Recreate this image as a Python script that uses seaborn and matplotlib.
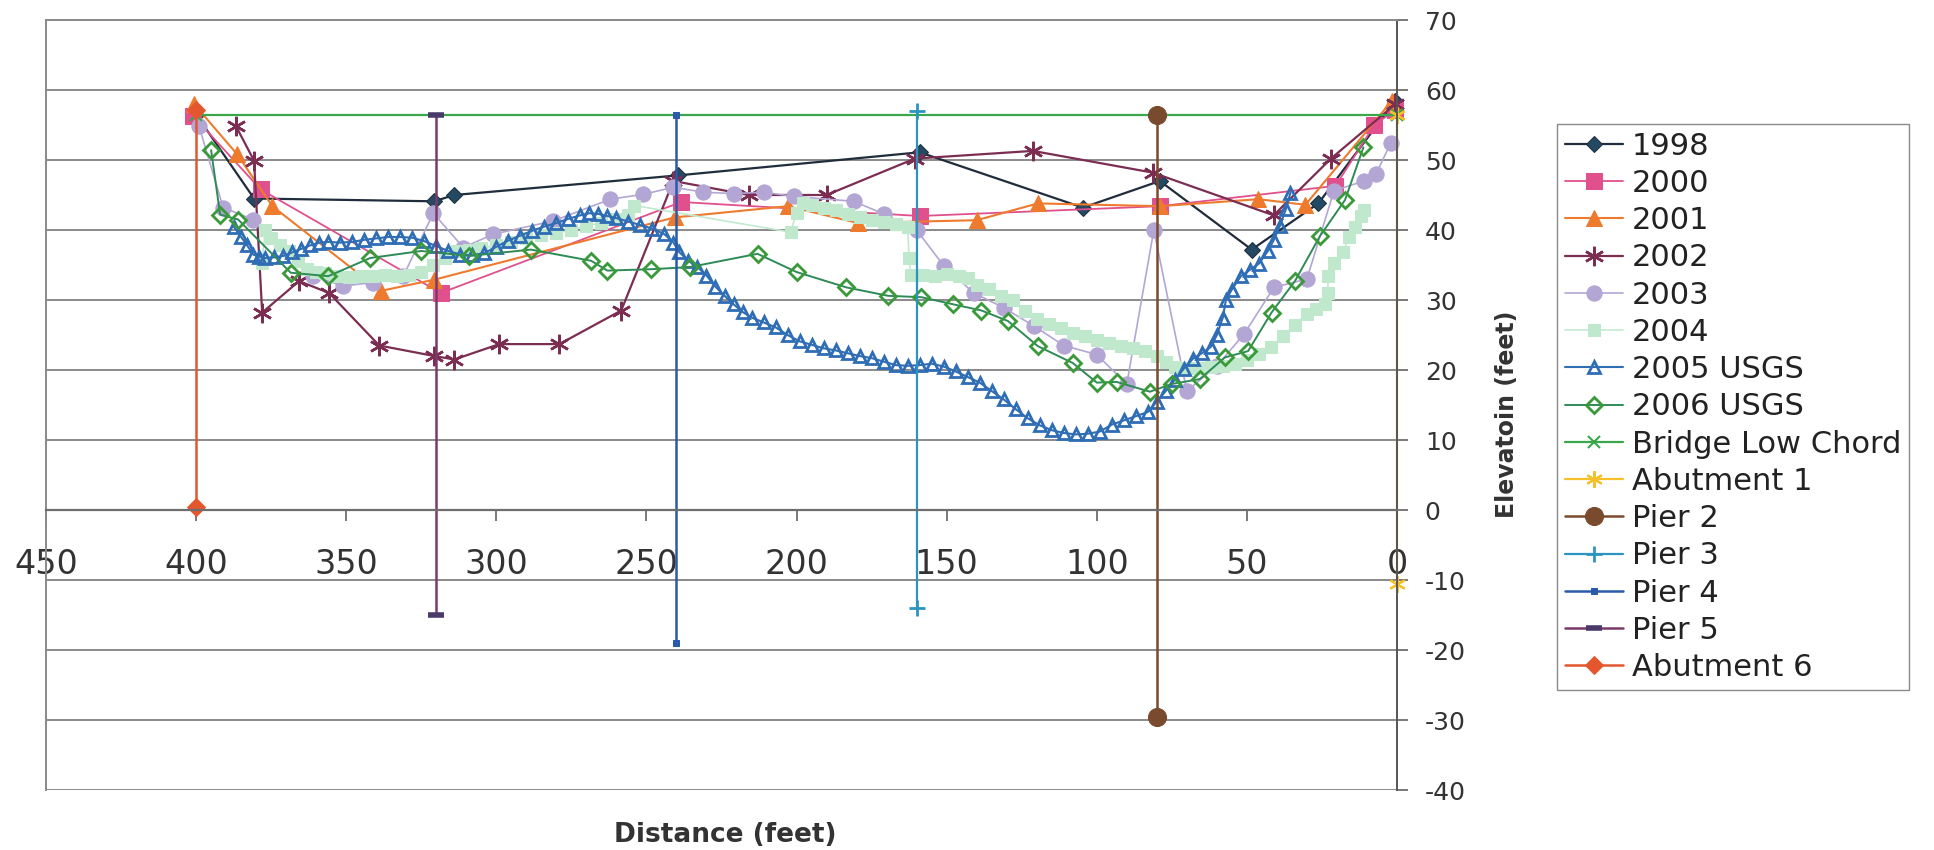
import matplotlib
matplotlib.use("Agg")
import matplotlib.pyplot as plt
import seaborn as sns

# ---------------- data ----------------
x_1998 = [400, 380.7, 320.7, 314, 239.5, 159, 104.6, 79, 48.4, 26.2, 0.5]
y_1998 = [56.5, 44.5, 44.1, 45.0, 47.8, 51.1, 43.2, 47.0, 37.2, 43.8, 58.5]

x_2000 = [401, 378.5, 318.5, 238.4, 159, 79, 20.5, 7.5, 0.5]
y_2000 = [56.3, 45.8, 31.0, 44.0, 42.0, 43.4, 46.3, 55.0, 57.2]

x_2001 = [400.7, 386.3, 374.6, 338.5, 320.7, 240.6, 203, 179.5, 140, 119.6, 79, 46.2, 30.5, 1.8]
y_2001 = [58.0, 50.8, 43.4, 31.3, 32.9, 41.8, 43.4, 41.0, 41.4, 43.8, 43.4, 44.4, 43.6, 58.4]

x_2002 = [386.8, 380.7, 378, 365.7, 355.7, 339, 320.7, 314, 299, 279, 258.4, 241, 216, 190,
          160.6, 121.3, 81.4, 41.1, 22, 0.5]
y_2002 = [54.9, 49.9, 28.2, 32.7, 31.0, 23.5, 22.0, 21.5, 23.7, 23.7, 28.5, 47.0, 45.0, 45.0,
          50.2, 51.3, 48.2, 42.1, 50.2, 58.0]

x_2003 = [399, 391, 381, 361, 351, 341, 331, 321, 311, 301, 281, 262, 251, 241, 231, 221, 211,
          201, 181, 171, 160, 151, 141, 131, 121, 111, 100, 90, 81, 70, 60, 51, 41, 30, 21, 11, 7, 2]
y_2003 = [54.8, 43.2, 41.5, 33.4, 32.0, 32.5, 33.4, 42.4, 37.5, 39.4, 41.3, 44.4, 45.1, 46.1,
          45.4, 45.2, 45.4, 44.8, 44.1, 42.3, 40.0, 34.9, 31.0, 28.9, 26.3, 23.5, 22.2, 18.0,
          40.0, 17.0, 20.6, 25.1, 31.8, 33.0, 45.6, 47.0, 48.0, 52.5]

x_2004 = [378, 377, 375, 372, 369, 366, 363, 360, 357, 353, 349, 345, 341, 337, 333, 329, 325,
          321, 317, 313, 309, 305, 300, 295, 290, 285, 280, 275, 270, 265, 260, 256, 254,
          202, 200, 198, 195, 191, 187, 183, 179, 175, 171, 167, 163, 162.5, 162, 158, 154,
          150, 146, 143, 140, 136, 132, 128, 124, 120, 116, 112, 108, 104, 100, 96, 92, 88,
          84, 80, 77, 74, 70, 66, 62, 58, 54, 50, 46, 42, 38, 34, 30, 27, 24, 23, 23, 21,
          18, 16, 14, 12, 11]
y_2004 = [35.3, 40.0, 38.8, 37.8, 37.0, 35.6, 34.4, 34.0, 33.8, 33.4, 33.3, 33.5, 33.4, 33.6,
          33.4, 33.6, 34.0, 35.0, 36.0, 37.0, 37.2, 37.4, 37.8, 38.3, 38.8, 39.3, 39.6, 40.0,
          40.6, 41.0, 41.6, 42.2, 43.5,
          39.7, 42.5, 43.9, 43.6, 43.2, 42.8, 42.3, 41.9, 41.5, 41.2, 40.9, 40.5, 36.0, 33.6,
          33.6, 33.5, 33.7, 33.4, 33.2, 32.2, 31.6, 30.6, 30.0, 28.5, 27.3, 26.6, 26.0, 25.3,
          24.8, 24.3, 23.9, 23.5, 23.1, 22.7, 22.0, 21.2, 20.4, 20.3, 20.3, 20.4, 20.6, 20.8,
          21.5, 22.3, 23.3, 24.8, 26.5, 28.0, 28.7, 29.5, 31.0, 33.5, 35.3, 36.8, 39.0, 40.5,
          42.0, 42.9]

x_2005 = [387.5, 385, 383, 381, 379, 377, 374, 371, 368, 365, 362, 359, 356, 352, 348, 344, 340,
          336, 332, 328, 324, 320, 316, 312, 308, 304, 300, 296, 292, 288, 284, 280, 276, 272,
          269, 266, 263, 260, 256, 252, 248, 244, 241, 239, 236, 233, 230, 227, 224, 221, 218,
          215, 211, 207, 203, 199, 195, 191, 187, 183, 179, 175, 171, 167, 163, 159, 155, 151,
          147, 143, 139, 135, 131, 127, 123, 119, 115, 111, 107, 103, 99, 95, 91, 87, 83, 80,
          77, 74, 71, 68, 65, 62, 60, 58, 57, 55, 52, 49, 46, 43, 41, 39, 37, 35.5]
y_2005 = [40.5, 39.0, 37.8, 36.5, 36.2, 36.0, 36.1, 36.3, 36.8, 37.3, 37.8, 38.2, 38.3, 38.2,
          38.3, 38.6, 38.8, 39.0, 39.0, 38.9, 38.4, 37.7, 37.0, 36.5, 36.4, 36.7, 37.6, 38.5,
          39.2, 39.9, 40.5, 41.0, 41.6, 42.1, 42.4, 42.3, 42.0, 41.7, 41.2, 40.7, 40.2, 39.4,
          38.2, 36.8, 35.6, 34.7, 33.5, 31.9, 30.6, 29.4, 28.3, 27.5, 26.8, 26.1, 25.0, 24.1,
          23.6, 23.1, 22.8, 22.4, 22.0, 21.7, 21.2, 20.7, 20.6, 20.7, 20.9, 20.5, 19.8, 19.0,
          18.2, 17.0, 15.8, 14.4, 13.1, 12.1, 11.4, 11.0, 10.8, 10.9, 11.2, 12.2, 12.8, 13.4,
          14.0, 15.5, 17.0, 18.6, 20.2, 21.6, 22.4, 23.3, 25.0, 27.5, 30.0, 31.5, 33.4, 34.3,
          35.2, 37.0, 38.6, 40.6, 43.0, 45.3]

x_2006 = [395, 392, 386, 368.5, 356, 342, 325, 309, 288.5, 268.4, 263, 248.4, 235.6, 213, 200,
          183.4, 169.5, 158.4, 148, 138.4, 129.6, 119.6, 108, 100, 93.4, 82.3, 75, 65.7, 57.3,
          49.6, 41.8, 34, 25.7, 17.3, 11.2]
y_2006 = [51.4, 42.2, 41.5, 33.9, 33.4, 36.0, 37.0, 36.3, 37.2, 35.6, 34.2, 34.4, 34.7, 36.6,
          34.0, 31.8, 30.6, 30.4, 29.4, 28.5, 27.0, 23.4, 21.0, 18.2, 18.3, 16.9, 18.0, 18.7,
          21.8, 22.7, 28.2, 32.7, 39.1, 44.3, 51.8]

x_bridge = [400, 0]
y_bridge = [56.4, 56.4]
x_abut1 = [0, 0]
y_abut1 = [56.5, -10.5]
x_pier2 = [80, 80]
y_pier2 = [56.5, -29.5]
x_pier3 = [160, 160]
y_pier3 = [57.0, -14.0]
x_pier4 = [240, 240]
y_pier4 = [56.4, -19.0]
x_pier5 = [320, 320]
y_pier5 = [56.4, -15.0]
x_abut6 = [400, 400]
y_abut6 = [57.2, 0.5]

x_ticks = [450, 400, 350, 300, 250, 200, 150, 100, 50, 0]
y_ticks = [-40, -30, -20, -10, 0, 10, 20, 30, 40, 50, 60, 70]

# ---------------- style ----------------
sns.set_theme(style="white")
plt.rcParams["font.family"] = ["DejaVu Sans"]

W, H = 1934, 850
fig = plt.figure(figsize=(W / 100, H / 100), dpi=100)
ax = fig.add_axes([46 / W, 60 / H, (1397 - 46) / W, (790 - 20) / H])

ast = (6, 2, 0)
series = [
    ("1998", x_1998, y_1998, dict(color="#1f2d3d", marker="D", markersize=8,
                                  markerfacecolor="#244a63", markeredgecolor="#1f2d3d", linewidth=1.6)),
    ("2000", x_2000, y_2000, dict(color="#e0508c", marker="s", markersize=11,
                                  markerfacecolor="#e0508c", markeredgecolor="#e0508c", linewidth=1.3)),
    ("2001", x_2001, y_2001, dict(color="#ee7a2e", marker="^", markersize=12,
                                  markerfacecolor="#ee7a2e", markeredgecolor="#ee7a2e", linewidth=1.5)),
    ("2002", x_2002, y_2002, dict(color="#7b2d52", marker=ast, markersize=14, markeredgewidth=1.8,
                                  markerfacecolor="#7b2d52", markeredgecolor="#7b2d52", linewidth=1.6)),
    ("2003", x_2003, y_2003, dict(color="#b3a6d4", marker="o", markersize=11,
                                  markerfacecolor="#b3a6d4", markeredgecolor="#b3a6d4", linewidth=1.2)),
    ("2004", x_2004, y_2004, dict(color="#c2ead0", marker="s", markersize=8,
                                  markerfacecolor="#bfe8cc", markeredgecolor="#bfe8cc", linewidth=1.2)),
    ("2005 USGS", x_2005, y_2005, dict(color="#2f6db5", marker="^", markersize=9, markeredgewidth=2,
                                       markerfacecolor="none", markeredgecolor="#2f6db5", linewidth=1.5)),
    ("2006 USGS", x_2006, y_2006, dict(color="#2e8b57", marker="D", markersize=8, markeredgewidth=2,
                                       markerfacecolor="none", markeredgecolor="#3a9a3a", linewidth=1.4)),
    ("Bridge Low Chord", x_bridge, y_bridge, dict(color="#3aa84a", marker="x", markersize=9,
                                                  markeredgewidth=1.5, markeredgecolor="#3aa84a", linewidth=1.6)),
    ("Abutment 1", x_abut1, y_abut1, dict(color="#f6c02b", marker=ast, markersize=12, markeredgewidth=1.5,
                                          markeredgecolor="#f6c02b", linewidth=1.6)),
    ("Pier 2", x_pier2, y_pier2, dict(color="#7a4a2e", marker="o", markersize=13,
                                      markerfacecolor="#7a4a2e", markeredgecolor="#7a4a2e", linewidth=1.8)),
    ("Pier 3", x_pier3, y_pier3, dict(color="#2b95c0", marker="+", markersize=12, markeredgewidth=2,
                                      markeredgecolor="#2b95c0", linewidth=1.6)),
    ("Pier 4", x_pier4, y_pier4, dict(color="#2a5aa8", marker="s", markersize=4,
                                      markerfacecolor="#2a5aa8", markeredgecolor="#2a5aa8", linewidth=1.8)),
    ("Pier 5", x_pier5, y_pier5, dict(color="#7a3a6a", marker="_", markersize=12, markeredgewidth=4,
                                      markeredgecolor="#4a3a6a", linewidth=1.8)),
    ("Abutment 6", x_abut6, y_abut6, dict(color="#e4572e", marker="D", markersize=9,
                                          markerfacecolor="#e4572e", markeredgecolor="#e4572e", linewidth=1.8)),
]

for name, xs, ys, kw in series:
    sns.lineplot(x=xs, y=ys, sort=False, estimator=None, ax=ax, label=name, legend=False,
                 clip_on=False, **kw)

# ---------------- axes ----------------
ax.set_xlim(450, 0)
ax.set_ylim(-40, 70)
ax.set_xticks(x_ticks)
ax.set_xticklabels([str(v) for v in x_ticks])
ax.set_yticks(y_ticks)
ax.set_yticklabels([str(v) for v in y_ticks])
ax.grid(False)
ax.yaxis.grid(True, color="#8a8a8a", linewidth=1.4)
ax.set_axisbelow(True)
ax.yaxis.tick_right()

ax.spines["bottom"].set_position(("data", 0))
ax.spines["bottom"].set_color("#6e6e6e")
ax.spines["bottom"].set_linewidth(1.6)
ax.spines["right"].set_color("#555555")
ax.spines["right"].set_linewidth(1.4)
ax.spines["left"].set_color("#8a8a8a")
ax.spines["left"].set_linewidth(1.4)
ax.spines["top"].set_color("#8a8a8a")
ax.spines["top"].set_linewidth(1.4)

ax.tick_params(axis="x", direction="out", length=8, width=1.3, color="#6e6e6e",
               labelsize=24, pad=19, labelcolor="#333333", bottom=True)
ax.tick_params(axis="y", direction="out", length=8, width=1.3, color="#6e6e6e",
               labelsize=18, pad=12, labelcolor="#333333", right=True, left=False)
ax.set_xlabel("")
ax.set_ylabel("")

fig.text(1507 / W, 1 - 414 / H, "Elevatoin (feet)", rotation=90, ha="center", va="center",
         fontsize=17, fontweight="bold", color="#333333")
fig.text(725 / W, 1 - 835 / H, "Distance (feet)", ha="center", va="center",
         fontsize=19, fontweight="bold", color="#333333")

handles, labels = ax.get_legend_handles_labels()
leg = ax.legend(handles, labels, loc="upper left", bbox_to_anchor=(1557 / W, 1 - 124 / H),
                bbox_transform=fig.transFigure, frameon=True, fancybox=False, framealpha=1,
                edgecolor="#8a8a8a", facecolor="white", fontsize=22, labelspacing=0.27,
                handlelength=1.9, handletextpad=0.3, borderpad=0.25, borderaxespad=0)
for t in leg.get_texts():
    t.set_color("#222222")

fig.savefig("out.png", dpi=100, facecolor="white")
